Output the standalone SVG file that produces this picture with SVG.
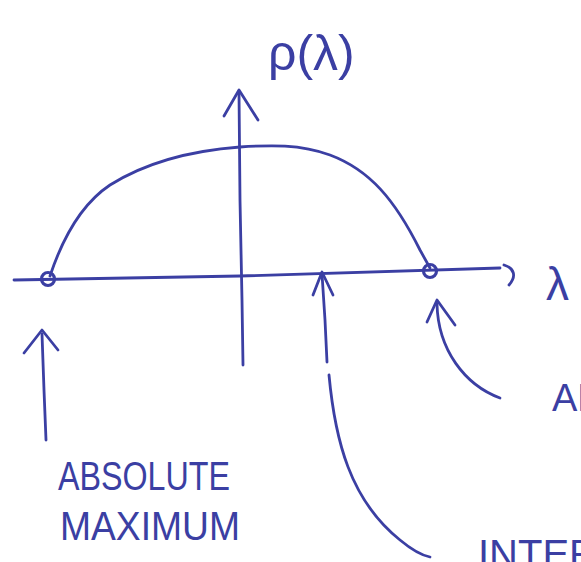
<svg xmlns="http://www.w3.org/2000/svg" width="581" height="562" viewBox="0 0 581 562">
<style>
.ink{fill:none;stroke:#3b3fa3;stroke-width:2.8;stroke-linecap:round;stroke-linejoin:round}
.dot{fill:none;stroke:#3b3fa3;stroke-width:3.2}
.lbl{fill:#3b3fa3;font-family:"Liberation Sans","DejaVu Sans",sans-serif;font-weight:normal}
</style>
<rect width="581" height="562" fill="#ffffff"/>
<g id="axes">
<path class="ink" d="M14,280 L240,276 L500,268"/>
<path class="ink" d="M504,265 C514,268 517,276 509,285"/>
<path class="ink" d="M239,92 L240,200 L242,300 L243,365"/>
<path class="ink" d="M224,116 L239,90 L258,120"/>
</g>
<g id="curve">
<path class="ink" d="M50,276 C62,240 80,205 110,185 C150,160 200,150 240,147 C270,145 300,144 330,155 C370,170 395,200 420,250 L430,268"/>
</g>
<g id="endpoint-left"><circle class="dot" cx="48" cy="279" r="6.5"/></g>
<g id="endpoint-right"><circle class="dot" cx="430" cy="271" r="6.5"/></g>
<g id="label-rho"><text class="lbl" x="268" y="70" font-size="50">ρ(λ)</text></g>
<g id="label-lambda"><text class="lbl" x="546" y="300" font-size="46">λ</text></g>
<g id="label-absmax">
<text class="lbl" x="58" y="490" font-size="40" textLength="172" lengthAdjust="spacingAndGlyphs">ABSOLUTE</text>
<text class="lbl" x="60" y="540" font-size="40" textLength="180" lengthAdjust="spacingAndGlyphs">MAXIMUM</text>
</g>
<g id="label-inter"><text class="lbl" x="478" y="568" font-size="40">INTER</text></g>
<g id="label-ab"><text class="lbl" x="552" y="411" font-size="38">AB</text></g>
<g id="connectors">
<path class="ink" d="M42,334 L44,390 L46,440"/>
<path class="ink" d="M24,353 L42,330 L58,350"/>
<path class="ink" d="M322,274 L325,320 L327,362"/>
<path class="ink" d="M313,295 L322,272 L333,295"/>
<path class="ink" d="M329,375 C335,440 350,500 400,540 C412,550 420,555 430,557"/>
<path class="ink" d="M437,304 C438,350 465,385 500,398"/>
<path class="ink" d="M427,322 L437,300 L455,325"/>
</g>
</svg>
